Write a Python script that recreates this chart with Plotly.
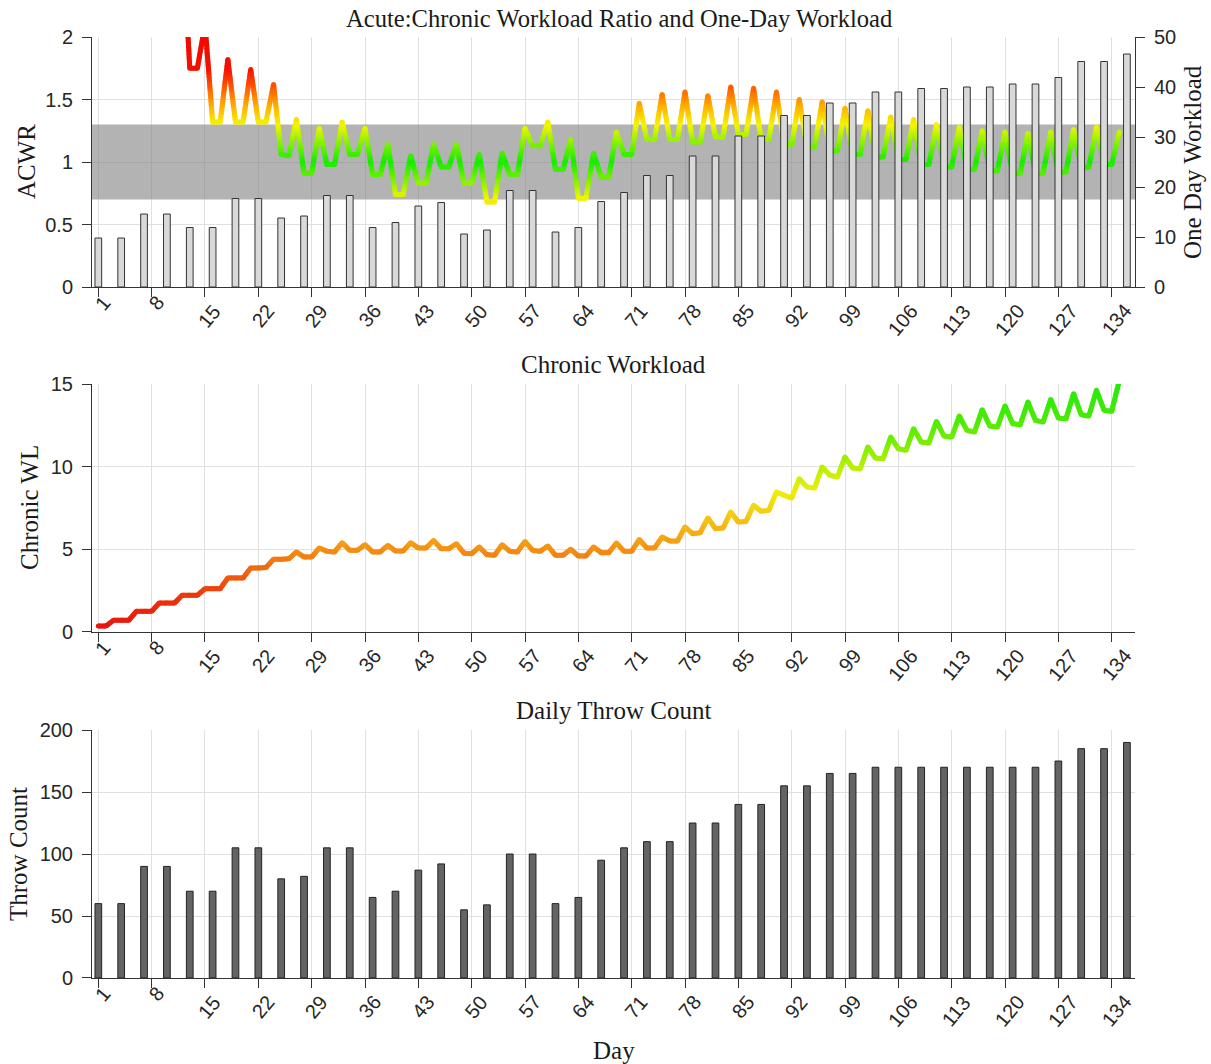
import math
import plotly.graph_objects as go

# ---------------- data ----------------
throw_days = [1, 4, 7, 10, 13, 16, 19, 22, 25, 28, 31, 34, 37, 40, 43, 46, 49, 52, 55, 58,
              61, 64, 67, 70, 73, 76, 79, 82, 85, 88, 91, 94, 97, 100, 103, 106, 109, 112,
              115, 118, 121, 124, 127, 130, 133, 136]

throw_count = [60, 60, 90, 90, 70, 70, 105, 105, 80, 82, 105, 105, 65, 70, 87, 92, 55, 59, 100, 100,
               60, 65, 95, 105, 110, 110, 125, 125, 140, 140, 155, 155, 165, 165, 170, 170, 170, 170,
               170, 170, 170, 170, 175, 185, 185, 190]

one_day_workload = [9.8, 9.8, 14.6, 14.6, 11.9, 11.9, 17.7, 17.7, 13.8, 14.2,
                    18.3, 18.3, 11.9, 12.9, 16.2, 16.9, 10.6, 11.4, 19.3, 19.3,
                    11.0, 11.9, 17.1, 18.9, 22.3, 22.3, 26.2, 26.2, 30.2, 30.2,
                    34.3, 34.3, 36.8, 36.8, 39.0, 39.0, 39.7, 39.7, 40.0, 40.0,
                    40.6, 40.6, 41.9, 45.1, 45.1, 46.6]

line_days = list(range(1, 136))

# ACWR per day (days 1-12 lie above the visible range; estimated)
acwr = [4.6, 4.4, 6.0, 4.0, 3.8, 4.2, 3.2, 3.1, 3.4, 2.7, 2.6, 2.9,
        1.75, 1.75, 2.10, 1.32, 1.32, 1.82, 1.32, 1.32, 1.74, 1.32, 1.32, 1.62,
        1.06, 1.05, 1.34, 0.91, 0.91, 1.27, 0.98, 0.98, 1.32, 1.06, 1.06, 1.27,
        0.90, 0.90, 1.14, 0.74, 0.74, 1.05, 0.83, 0.83, 1.14, 0.96, 0.96, 1.14,
        0.83, 0.83, 1.06, 0.68, 0.68, 1.07, 0.90, 0.90, 1.27, 1.13, 1.13, 1.32,
        0.94, 0.94, 1.18, 0.71, 0.71, 1.07, 0.88, 0.88, 1.24, 1.06, 1.06, 1.47,
        1.18, 1.18, 1.54, 1.18, 1.18, 1.56, 1.16, 1.16, 1.53, 1.20, 1.20, 1.60,
        1.22, 1.22, 1.59, 1.18, 1.18, 1.56, 1.14, 1.14, 1.50, 1.12, 1.12, 1.48,
        1.09, 1.09, 1.43, 1.06, 1.06, 1.41, 1.04, 1.04, 1.36, 1.02, 1.02, 1.34,
        0.98, 0.98, 1.30, 0.96, 0.96, 1.28, 0.94, 0.94, 1.25, 0.93, 0.93, 1.24,
        0.91, 0.91, 1.23, 0.91, 0.91, 1.24, 0.92, 0.92, 1.26, 0.96, 0.96, 1.28,
        0.98, 0.98, 1.24]

chronic = [0.36, 0.36, 0.71, 0.71, 0.71, 1.25, 1.25, 1.25, 1.75, 1.75, 1.75, 2.22,
           2.22, 2.22, 2.62, 2.62, 2.62, 3.27, 3.27, 3.27, 3.87, 3.87, 3.90, 4.40,
           4.40, 4.43, 4.84, 4.54, 4.54, 5.08, 4.88, 4.84, 5.40, 4.94, 4.94, 5.28,
           4.84, 4.84, 5.24, 4.90, 4.90, 5.40, 5.08, 5.08, 5.54, 5.04, 5.04, 5.34,
           4.76, 4.74, 5.14, 4.68, 4.64, 5.28, 4.88, 4.84, 5.48, 4.94, 4.88, 5.20,
           4.64, 4.64, 5.00, 4.60, 4.60, 5.14, 4.80, 4.80, 5.38, 4.88, 4.88, 5.60,
           5.08, 5.08, 5.75, 5.50, 5.50, 6.35, 5.95, 6.00, 6.90, 6.25, 6.29, 7.26,
           6.65, 6.69, 7.66, 7.30, 7.36, 8.47, 8.27, 8.10, 9.27, 8.77, 8.71, 9.98,
           9.48, 9.38, 10.58, 9.92, 9.88, 11.19, 10.52, 10.48, 11.79, 11.09, 10.99, 12.30,
           11.49, 11.43, 12.74, 11.85, 11.79, 13.06, 12.20, 12.10, 13.45, 12.46, 12.40, 13.67,
           12.60, 12.54, 13.91, 12.80, 12.70, 14.07, 12.94, 12.90, 14.42, 13.15, 13.06, 14.62,
           13.41, 13.35, 15.20]

band_low, band_high = 0.7, 1.3

x_tick_vals = [1, 8, 15, 22, 29, 36, 43, 50, 57, 64, 71, 78, 85, 92, 99, 106, 113, 120, 127, 134]

# ---------------- layout constants ----------------
X_RANGE = [0.17, 137.06]
W, H = 1211, 1064
ML, MR, MT, MB = 92, 76, 37, 86
PLOT_W = W - ML - MR
PLOT_H = H - MT - MB
DOM_TOP = [0.7343, 1.0]
DOM_MID = [0.3677, 0.6312]
DOM_BOT = [0.0, 0.2635]

ACWR_STOPS = [(0.0, (20, 235, 0)), (0.1, (90, 240, 0)), (0.3, (245, 245, 0)),
              (0.45, (255, 175, 0)), (0.6, (255, 90, 0)), (0.75, (245, 15, 0)),
              (1.5, (235, 0, 0))]
CHRONIC_STOPS = [(0.0, (232, 15, 15)), (2.0, (236, 50, 12)), (4.0, (240, 110, 15)),
                 (5.5, (245, 160, 20)), (7.0, (245, 200, 20)), (8.5, (238, 238, 10)),
                 (10.0, (185, 240, 5)), (11.5, (120, 238, 0)), (13.0, (70, 235, 5)),
                 (15.0, (35, 235, 10))]


def interp_color(stops, t):
    if t <= stops[0][0]:
        c = stops[0][1]
    elif t >= stops[-1][0]:
        c = stops[-1][1]
    else:
        c = stops[-1][1]
        for (t0, c0), (t1, c1) in zip(stops[:-1], stops[1:]):
            if t0 <= t <= t1:
                f = (t - t0) / (t1 - t0)
                c = tuple(c0[j] + f * (c1[j] - c0[j]) for j in range(3))
                break
    return "rgb(%d,%d,%d)" % tuple(int(round(v)) for v in c)


def acwr_param(v):
    return min(abs(v - 1.0), 1.5)


def chronic_param(v):
    return max(0.0, min(v, 15.0))


def add_gradient_line(fig, xs, ys, param_fn, stops, step, xa, ya, ppx, ppy, lw):
    groups = {}
    for i in range(len(xs) - 1):
        x0, y0, x1, y1 = xs[i], ys[i], xs[i + 1], ys[i + 1]
        L = math.hypot((x1 - x0) * ppx, (y1 - y0) * ppy)
        n = max(1, math.ceil(L / 1.5))
        for k in range(n):
            ta, tb = k / n, (k + 1) / n
            tm = 0.5 * (ta + tb)
            v = y0 + tm * (y1 - y0)
            key = int(round(param_fn(v) / step))
            ta2 = max(0.0, ta - 0.3 / n)
            tb2 = min(1.0, tb + 0.3 / n)
            gx, gy = groups.setdefault(key, ([], []))
            gx.extend([x0 + ta2 * (x1 - x0), x0 + tb2 * (x1 - x0), None])
            gy.extend([y0 + ta2 * (y1 - y0), y0 + tb2 * (y1 - y0), None])
    for key in sorted(groups):
        gx, gy = groups[key]
        fig.add_trace(go.Scatter(x=gx, y=gy, mode="lines",
                                 line=dict(color=interp_color(stops, key * step), width=lw),
                                 xaxis=xa, yaxis=ya, hoverinfo="skip", showlegend=False))
    fig.add_trace(go.Scatter(x=xs, y=ys, mode="markers",
                             marker=dict(size=lw, color=[interp_color(stops, param_fn(v)) for v in ys],
                                         line=dict(width=0)),
                             xaxis=xa, yaxis=ya, hoverinfo="skip", showlegend=False))


fig = go.Figure()

ppx = PLOT_W / (X_RANGE[1] - X_RANGE[0])
top_h = PLOT_H * (DOM_TOP[1] - DOM_TOP[0])
mid_h = PLOT_H * (DOM_MID[1] - DOM_MID[0])

# top: ACWR target band (semi-transparent grey, over the grid)
fig.add_trace(go.Scatter(x=[X_RANGE[0], X_RANGE[1], X_RANGE[1], X_RANGE[0], X_RANGE[0]],
                         y=[band_low, band_low, band_high, band_high, band_low],
                         mode="lines", fill="toself", fillcolor="rgba(128,128,128,0.6)",
                         line=dict(width=0, color="rgba(0,0,0,0)"),
                         xaxis="x", yaxis="y", hoverinfo="skip", showlegend=False))
# top: ACWR gradient line (left axis)
add_gradient_line(fig, line_days, acwr, acwr_param, ACWR_STOPS, 0.01, "x", "y",
                  ppx, top_h / 2.0, 5)
# top: one-day workload bars (right axis, drawn over the line)
fig.add_trace(go.Bar(x=throw_days, y=one_day_workload, width=0.88,
                     marker=dict(color="#d9d9d9", line=dict(color="#333333", width=1)),
                     xaxis="x", yaxis="y2", hoverinfo="skip", showlegend=False))

# middle: chronic workload gradient line
add_gradient_line(fig, line_days, chronic, chronic_param, CHRONIC_STOPS, 0.15, "x2", "y3",
                  ppx, mid_h / 15.0, 5)

# bottom: daily throw count bars
fig.add_trace(go.Bar(x=throw_days, y=throw_count, width=0.88,
                     marker=dict(color="#646464", line=dict(color="#222222", width=1)),
                     xaxis="x3", yaxis="y4", hoverinfo="skip", showlegend=False))

TICKFONT = dict(family="Liberation Sans", size=20, color="#262626")
GRID = "#e0e0e0"
AXLINE = "#333333"


def xaxis_cfg(anchor):
    return dict(range=X_RANGE, tickmode="array", tickvals=x_tick_vals,
                showticklabels=False,
                ticks="outside", ticklen=9, tickwidth=1, tickcolor=AXLINE,
                showline=True, linecolor=AXLINE, linewidth=1, mirror=False,
                showgrid=True, gridcolor=GRID, gridwidth=1, zeroline=False,
                anchor=anchor, domain=[0, 1], fixedrange=True)


def yaxis_cfg(domain, rng, dtick, anchor="x", side="left"):
    return dict(domain=domain, range=rng, dtick=dtick, tick0=0, anchor=anchor, side=side,
                ticks="outside", ticklen=9, tickwidth=1, tickcolor=AXLINE,
                showline=True, linecolor=AXLINE, linewidth=1,
                showgrid=True, gridcolor=GRID, gridwidth=1, zeroline=False,
                tickfont=TICKFONT, ticklabelstandoff=5, fixedrange=True)


y2 = yaxis_cfg(DOM_TOP, [0, 50], 10, anchor="x", side="right")
y2.update(overlaying="y", showgrid=False)

fig.update_layout(
    width=W, height=H,
    margin=dict(l=ML, r=MR, t=MT, b=MB, pad=0),
    paper_bgcolor="white", plot_bgcolor="white",
    showlegend=False, barmode="overlay",
    xaxis=xaxis_cfg("y"),
    xaxis2=xaxis_cfg("y3"),
    xaxis3=xaxis_cfg("y4"),
    yaxis=yaxis_cfg(DOM_TOP, [0, 2], 0.5, anchor="x"),
    yaxis2=y2,
    yaxis3=yaxis_cfg(DOM_MID, [0, 15], 5, anchor="x2"),
    yaxis4=yaxis_cfg(DOM_BOT, [0, 200], 50, anchor="x3"),
)

# rotated x tick labels (as annotations, to place them like the reference)
LABEL_DROP = {1: 16, 2: 29, 3: 33}
for xr, yr in (("x", "y"), ("x2", "y3"), ("x3", "y4")):
    for v in x_tick_vals:
        s = str(v)
        fig.add_annotation(text=s, x=v, y=0, xref=xr, yref=yr,
                           xanchor="center", yanchor="middle",
                           xshift=4.5, yshift=-LABEL_DROP[len(s)],
                           textangle=-50, showarrow=False, font=TICKFONT)

SERIF = dict(family="Liberation Serif", size=25, color="#1a1a1a")


def ann(text, x, y, xshift=0, yshift=0, angle=0, size=25):
    f = dict(SERIF)
    f["size"] = size
    fig.add_annotation(text=text, x=x, y=y, xref="paper", yref="paper",
                       xanchor="center", yanchor="middle", xshift=xshift, yshift=yshift,
                       textangle=angle, showarrow=False, font=f)


# titles
ann("Acute:Chronic Workload Ratio and One-Day Workload", 0.5, DOM_TOP[1], xshift=5, yshift=19, size=24.6)
ann("Chronic Workload", 0.5, DOM_MID[1], yshift=20)
ann("Daily Throw Count", 0.5, DOM_BOT[1], yshift=20)
# axis labels
ann("ACWR", 0, sum(DOM_TOP) / 2, xshift=-66, angle=-90)
ann("One Day Workload", 1, sum(DOM_TOP) / 2, xshift=57, angle=-90)
ann("Chronic WL", 0, sum(DOM_MID) / 2, xshift=-63, angle=-90)
ann("Throw Count", 0, sum(DOM_BOT) / 2, xshift=-74, angle=-90)
ann("Day", 0.5, 0, yshift=-72)

fig.write_html("out.html", config={"displayModeBar": False},
               post_script="document.body.style.margin='0px';")
